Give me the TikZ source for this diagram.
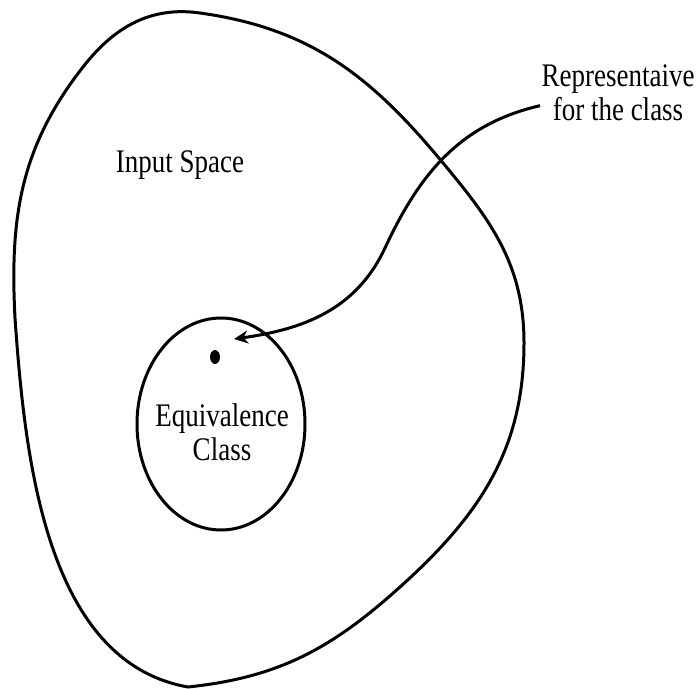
\documentclass[tikz,border=0pt]{standalone}
\usepackage{fontspec}
\setmainfont{Liberation Serif}
\usepackage{tikz}
\usetikzlibrary{arrows.meta}
\usetikzlibrary{shapes.geometric}

\begin{document}
\begin{tikzpicture}[x=1pt, y=1pt, line width=3pt,
    lbl/.style={font=\fontsize{27}{27.5}\selectfont, align=center, inner sep=0pt, yscale=1.22},
    dot/.style={ellipse, fill=black, inner sep=0pt, minimum width=10pt, minimum height=14pt}]
\useasboundingbox (0,0) rectangle (700,688);

% ---------------- Input Space (outer blob) ----------------
\draw (200,675) to[out=-8, in=130] (438,531) to[out=-50, in=90] (524,345)
    to[out=-90, in=42] (400,101) to[out=222, in=6] (188,1)
    to[out=170, in=-86, looseness=0.9] (15,370)
    to[out=93, in=232] (83,621) to[out=52, in=172] cycle;
\node[lbl, anchor=north] (space) at (180,539) {Input Space};

% ---------------- Equivalence Class ----------------
\node[draw, ellipse, minimum width=168pt, minimum height=212pt] (eqclass) at (221,264) {};
\node[lbl, anchor=north] (eqlabel) at (222,286) {Equivalence\\Class};
\node[dot] (rep) at (215,331) {};

% ---------------- Representative arrow ----------------
\node[lbl, anchor=north] (replabel) at (618,625) {Representaive\\for the class};
\coordinate (reptip) at (234,349);
\draw[-{Stealth[length=14pt, width=13pt]}] ([yshift=-13pt]replabel.west)
    to[out=193, in=65] (385,440) to[out=245, in=8] (reptip);

\end{tikzpicture}
\end{document}
